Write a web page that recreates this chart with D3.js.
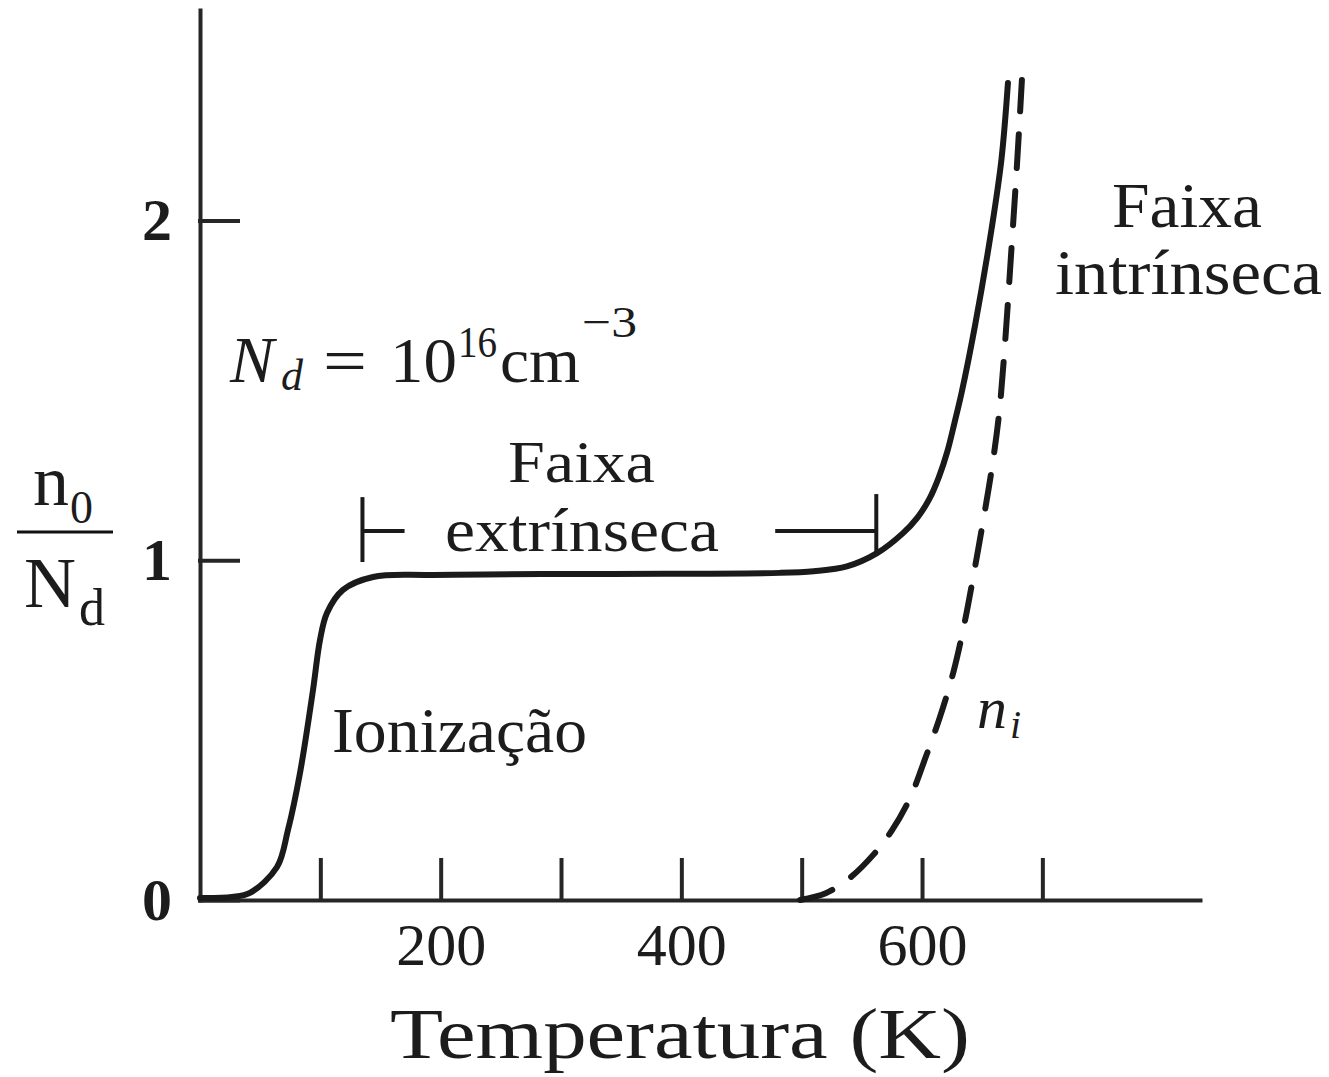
<!DOCTYPE html>
<meta charset="utf-8">
<style>
body { margin: 0; background: #fff; }
svg { display: block; font-family: "Liberation Serif", "Times New Roman", serif; }
.axis path, .axis line { stroke: #262626; stroke-width: 4; stroke-linecap: square; }
.axis text { fill: #1c1c1c; }
.lbl { fill: #1c1c1c; }
</style>
<svg width="1329" height="1077"></svg>
<script src="https://d3js.org/d3.v7.min.js"></script>
<script>

// temperature ticks (K) and which of them carry a label
var tempTicks = [100, 200, 300, 400, 500, 600, 700],
    tempLabels = [200, 400, 600],
    ratioTicks = [0, 1, 2]

// n0/Nd, solid curve
var n0T     = [0, 26.6, 41.5, 64, 73.1, 83.1, 93.9, 99.7, 105.5, 118.8, 143.8, 193.6, 332.4, 482, 510, 537.6, 562.6, 584.2, 596, 606, 614, 621, 627, 633, 644, 658, 666, 671.4]
var n0Ratio = [0.006, 0.009, 0.021, 0.097, 0.206, 0.374, 0.618, 0.765, 0.845, 0.913, 0.951, 0.957, 0.96, 0.963, 0.968, 0.982, 1.021, 1.08, 1.125, 1.18, 1.245, 1.32, 1.405, 1.495, 1.69, 1.98, 2.18, 2.405]

// ni/Nd, dashed curve
var niT     = [498.6, 520, 540, 560, 575, 590, 603, 615, 626, 635, 643, 651, 658, 664, 669, 674, 679, 683]
var niRatio = [0, 0.02, 0.065, 0.135, 0.205, 0.3, 0.42, 0.54, 0.67, 0.81, 0.96, 1.12, 1.27, 1.43, 1.64, 1.9, 2.17, 2.414]

// extrinsic range bracket (K)
var extrinsic = [135, 562]

var svg = d3.select("svg")

var x = d3.scaleLinear().domain([0, 831]).range([200, 1200])
var y = d3.scaleLinear().domain([0, 2.62]).range([900, 10])

svg.append("g")
  .attr("class", "axis")
  .attr("transform", "translate(0," + y(0) + ")")
  .call(d3.axisBottom(x)
    .tickValues(tempTicks)
    .tickSizeInner(-40)
    .tickSizeOuter(0)
    .tickPadding(22)
    .tickFormat(function(d){ return tempLabels.indexOf(d) >= 0 ? d : "" }))
  .attr("font-family", null)
  .attr("font-size", 60)

svg.append("g")
  .attr("class", "axis")
  .attr("transform", "translate(" + x(0) + ",0)")
  .call(d3.axisLeft(y)
    .tickValues(ratioTicks)
    .tickFormat(d3.format("d"))
    .tickSizeInner(-38)
    .tickSizeOuter(0)
    .tickPadding(28))
  .attr("font-family", null)
  .attr("font-size", 60)
  .attr("font-weight", "bold")

var line = d3.line()
  .x(function(d){ return x(d[0]) })
  .y(function(d){ return y(d[1]) })
  .curve(d3.curveCatmullRom.alpha(0.5))

svg.append("path")
  .datum(d3.zip(n0T, n0Ratio))
  .attr("d", line)
  .attr("fill", "none")
  .attr("stroke", "#1a1a1a")
  .attr("stroke-width", 6)
  .attr("stroke-linecap", "round")

svg.append("path")
  .datum(d3.zip(niT, niRatio))
  .attr("d", line)
  .attr("fill", "none")
  .attr("stroke", "#1a1a1a")
  .attr("stroke-width", 6)
  .attr("stroke-linecap", "round")
  .attr("stroke-dasharray", "34,23")

// bracket for the extrinsic range
var br = svg.append("g").attr("stroke", "#1a1a1a").attr("stroke-width", 4)
br.append("line").attr("x1", x(extrinsic[0])).attr("x2", x(extrinsic[0])).attr("y1", y(1.186)).attr("y2", y(0.995))
br.append("line").attr("x1", x(extrinsic[0])).attr("x2", x(170)).attr("y1", y(1.086)).attr("y2", y(1.086))
br.append("line").attr("x1", x(extrinsic[1])).attr("x2", x(extrinsic[1])).attr("y1", y(1.195)).attr("y2", y(1.024))
br.append("line").attr("x1", x(478)).attr("x2", x(extrinsic[1])).attr("y1", y(1.086)).attr("y2", y(1.086))

function label(txt, px, py, size, opts) {
  opts = opts || {}
  var t = svg.append("text").attr("class", "lbl")
    .attr("x", px).attr("y", py)
    .attr("font-size", size)
    .text(txt)
  if (opts.italic) t.attr("font-style", "italic")
  if (opts.len) t.attr("textLength", opts.len).attr("lengthAdjust", "spacingAndGlyphs")
  return t
}

// y label n0 / Nd
label("n", 33, 505, 72)
label("0", 70, 523, 46)
svg.append("line").attr("x1", 17).attr("x2", 113).attr("y1", 532).attr("y2", 532)
  .attr("stroke", "#111").attr("stroke-width", 3)
label("N", 24, 607, 72)
label("d", 79, 625, 52)

// Nd = 10^16 cm^-3
label("N", 230, 382, 66, {italic: true})
label("d", 281, 390, 44, {italic: true})
label("=", 323, 382, 64, {len: 44})
label("10", 390, 382, 64, {len: 67})
label("16", 458, 357, 44, {len: 39})
label("cm", 500, 382, 64, {len: 80})
label("\u22123", 582, 337, 44, {len: 55})

label("Faixa", 508, 482, 60, {len: 147})
label("extrínseca", 445, 551, 62, {len: 274})
label("Ionização", 332, 752, 64, {len: 255})
label("n", 977, 728, 60, {italic: true})
label("i", 1010, 738, 40, {italic: true})
label("Faixa", 1112, 227, 64, {len: 150})
label("intrínseca", 1055, 294, 64, {len: 267})
label("Temperatura (K)", 390, 1058, 72, {len: 580})

</script>
